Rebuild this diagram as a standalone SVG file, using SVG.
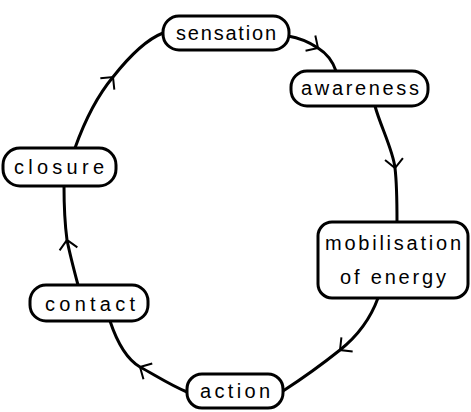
<svg xmlns="http://www.w3.org/2000/svg" width="471" height="412" viewBox="0 0 471 412">
<style>
.box{fill:#fff;stroke:#000;stroke-width:3}
.lbl{font-family:"Liberation Sans",Arial,sans-serif;font-size:20px;fill:#000;text-anchor:middle;dominant-baseline:central}
.con{fill:none;stroke:#000;stroke-width:3;marker-mid:url(#arr)}
</style>
<defs>
<marker id="arr" viewBox="-10 -10 20 20" refX="0" refY="0" markerWidth="20" markerHeight="20" markerUnits="userSpaceOnUse" orient="auto" overflow="visible">
<path d="M-9,-9 L0,0 L-9,9" fill="none" stroke="#000" stroke-width="2"/>
</marker>
</defs>
<rect width="471" height="412" fill="#fff"/>
<g id="connectors">
<path class="con" d="M288,36 C300,38 312,44 318,48 C326,53 333,62 336,71"/>
<path class="con" d="M375,106 C380,125 393,150 395,168 C397,185 397,205 397,222"/>
<path class="con" d="M378,298 C370,320 355,338 340,350 C320,366 300,380 283,391"/>
<path class="con" d="M187,392 C170,385 155,375 140,367 C128,360 118,345 110,321"/>
<path class="con" d="M78,285 C74,270 70,255 67,240 C65,225 64,205 64,186"/>
<path class="con" d="M75,148 C85,120 98,95 113,77 C128,58 145,40 163,33"/>
</g>
<g id="sensation">
<rect class="box" x="163" y="16" width="126" height="34" rx="16"/>
<text class="lbl" x="226" y="33" textLength="100" lengthAdjust="spacing">sensation</text>
</g>
<g id="awareness">
<rect class="box" x="291" y="71" width="137" height="35" rx="16"/>
<text class="lbl" x="360" y="88" textLength="118" lengthAdjust="spacing">awareness</text>
</g>
<g id="mobilisation">
<rect class="box" x="318" y="222" width="150" height="76" rx="14"/>
<text class="lbl" x="393" y="243" textLength="136" lengthAdjust="spacing">mobilisation</text>
<text class="lbl" x="393" y="277" textLength="106" lengthAdjust="spacing">of energy</text>
</g>
<g id="closure">
<rect class="box" x="3" y="148" width="113" height="38" rx="17"/>
<text class="lbl" x="59" y="167" textLength="90" lengthAdjust="spacing">closure</text>
</g>
<g id="contact">
<rect class="box" x="30" y="285" width="118" height="36" rx="16"/>
<text class="lbl" x="90" y="304" textLength="90" lengthAdjust="spacing">contact</text>
</g>
<g id="action">
<rect class="box" x="187" y="374" width="96" height="34" rx="15"/>
<text class="lbl" x="235" y="391" textLength="70" lengthAdjust="spacing">action</text>
</g>
</svg>
